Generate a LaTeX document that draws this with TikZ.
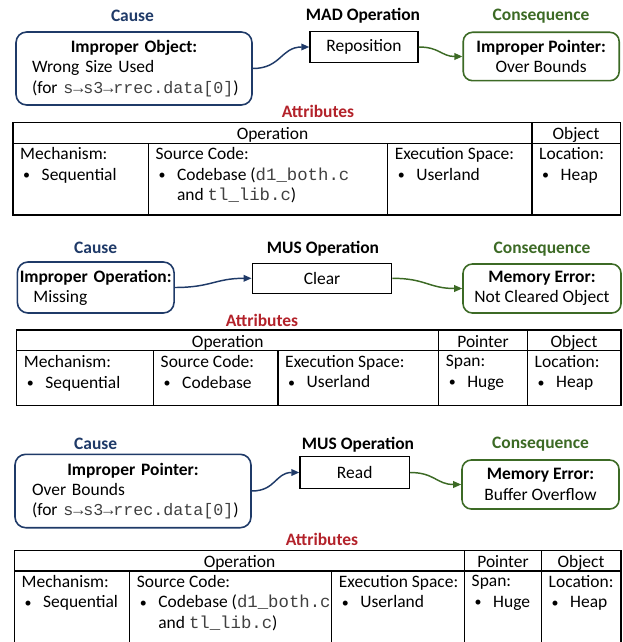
\documentclass[tikz,border=0pt]{standalone}
\usepackage{fontspec}
\setmainfont{Carlito}
\newfontfamily\codefont{Liberation Mono}
\usetikzlibrary{arrows.meta}

\definecolor{causeBlue}{HTML}{1F3A68}
\definecolor{consGreen}{HTML}{3C6A25}
\definecolor{attrRed}{HTML}{B3222A}

\newlength{\px}
\setlength{\px}{0.75pt}
\newcommand{\bodyfont}{\fontsize{13.1pt}{15.2pt}\selectfont}
\newcommand{\code}[1]{{\codefont\fontsize{12.5pt}{15.2pt}\selectfont\color{black!75}#1}}
\newcommand{\tcode}[1]{{\codefont\fontsize{13pt}{15.2pt}\selectfont\color{black!75}#1}}
\newcommand{\bitem}[1]{\makebox[21.5\px][l]{\hspace{3\px}\raisebox{0.5\px}{\fontsize{10.5pt}{12pt}\selectfont\textbullet}}#1}
\newcommand{\bcont}{\hspace*{21.5\px}}

\begin{document}
\begin{tikzpicture}[
    x=\px, y=-\px, font=\bodyfont, line width=1.1pt,
    causebox/.style={draw=causeBlue, rounded corners=8pt, line width=1.2pt,
                     align=left, inner xsep=16*\px, inner ysep=0pt},
    consbox/.style={draw=consGreen, rounded corners=7pt, line width=1.2pt,
                    align=center, inner sep=0pt},
    opbox/.style={draw=black, line width=1.1pt, inner sep=0pt},
    sectitle/.style={font=\bodyfont\bfseries, anchor=base, inner sep=0pt},
    colhead/.style={anchor=base, inner sep=0pt},
    cell/.style={anchor=north west, align=left, inner sep=0pt},
    causearr/.style={draw=causeBlue, line width=1.1pt, -{Triangle[length=6pt,width=5pt]}},
    consarr/.style={draw=consGreen, line width=1.1pt, -{Triangle[length=6pt,width=5pt]}}
  ]
    \useasboundingbox (0,0) rectangle (622,642);
    \clip (0,0) rectangle (622,642);

    % MAD operation
    \node[sectitle, text=causeBlue] (causelbl1) at (132.5,21.5) {Cause};
    \node[sectitle] (oplbl1) at (363,21) {MAD Operation};
    \node[sectitle, text=consGreen] (conslbl1) at (541,21) {Consequence};

    \node[causebox, text width=204*\px, minimum height=73*\px] (cause1) at (134,68.5)
      {\makebox[\linewidth]{\textbf{Improper Object:}}\\
       Wrong Size Used\\
       (for~\code{s→s3→rrec.data[0]})};
    \node[opbox, minimum width=108*\px, minimum height=30.6*\px] (op1) at (364,47) {Reposition};
    \node[consbox, minimum width=156*\px, minimum height=48.4*\px] (cons1) at (541.2,56.5)
      {\textbf{Improper Pointer:}\\Over Bounds};

    \draw[causearr] (cause1.east) to[out=0, in=180, looseness=1.2] (op1.west);
    \draw[consarr] (op1.east) to[out=0, in=180, looseness=1.2] (cons1.west);

    \node[sectitle, text=attrRed] (attr1) at (318,117) {Attributes};
    \draw (13,122.3) rectangle (620.5,215);
    \draw (13,143.3) -- (620.5,143.3);
    \draw (532,122.3) -- (532,215);
    \foreach \cx in {148.3,387.6}
      \draw (\cx,143.3) -- (\cx,215);
    \node[colhead] (t1op) at (272.5,139) {Operation};
    \node[colhead] (t1obj) at (576,139) {Object};
    \node[cell] (t1mech) at (19.5,147) {Mechanism:\\\bitem{Sequential}};
    \node[cell] (t1src) at (154.8,147)
      {Source Code:\\\bitem{Codebase (\tcode{d1\_both.c}}\\\bcont and \tcode{tl\_lib.c})};
    \node[cell] (t1exec) at (394.1,147) {Execution Space:\\\bitem{Userland}};
    \node[cell] (t1loc) at (538.5,147) {Location:\\\bitem{Heap}};

    % MUS operation: clear
    \node[sectitle, text=causeBlue] (causelbl2) at (95.7,253) {Cause};
    \node[sectitle] (oplbl2) at (323,253) {MUS Operation};
    \node[sectitle, text=consGreen] (conslbl2) at (542,253) {Consequence};

    \node[causebox, text width=124.7*\px, minimum height=51*\px] (cause2) at (95.7,287.5)
      {\makebox[\linewidth]{\textbf{Improper Operation:}}\\
       Missing};
    \node[opbox, minimum width=139.4*\px, minimum height=30*\px] (op2) at (322,278.3) {Clear};
    \node[consbox, minimum width=158*\px, minimum height=49*\px] (cons2) at (542,288.5)
      {\textbf{Memory Error:}\\Not Cleared Object};

    \draw[causearr] (cause2.east) to[out=0, in=180, looseness=1.2] (op2.west);
    \draw[consarr] (op2.east) to[out=0, in=180, looseness=1.2] (cons2.west);

    \node[sectitle, text=attrRed] (attr2) at (262,326) {Attributes};
    \draw (16.7,330) rectangle (621,405.7);
    \draw (16.7,350.7) -- (621,350.7);
    \foreach \cx in {438.6,527.5}
      \draw (\cx,330) -- (\cx,405.7);
    \foreach \cx in {153.5,278}
      \draw (\cx,350.7) -- (\cx,405.7);
    \node[colhead] (t2op) at (227.7,347) {Operation};
    \node[colhead] (t2ptr) at (483,347) {Pointer};
    \node[colhead] (t2obj) at (574,347) {Object};
    \node[cell] (t2mech) at (23.2,354.9) {Mechanism:\\\bitem{Sequential}};
    \node[cell] (t2src) at (160,354.9) {Source Code:\\\bitem{Codebase}};
    \node[cell] (t2exec) at (284.5,354.9) {Execution Space:\\\bitem{Userland}};
    \node[cell] (t2span) at (445.1,354.9) {Span:\\\bitem{Huge}};
    \node[cell] (t2loc) at (534,354.9) {Location:\\\bitem{Heap}};

    % MUS operation: read
    \node[sectitle, text=causeBlue] (causelbl3) at (95.7,449) {Cause};
    \node[sectitle] (oplbl3) at (358,449) {MUS Operation};
    \node[sectitle, text=consGreen] (conslbl3) at (540.5,448.5) {Consequence};

    \node[causebox, text width=202*\px, inner xsep=17*\px, minimum height=73.4*\px] (cause3) at (133,491)
      {\makebox[\linewidth]{\textbf{Improper Pointer:}}\\
       Over Bounds\\
       (for~\code{s→s3→rrec.data[0]})};
    \node[opbox, minimum width=109.3*\px, minimum height=31.6*\px] (op3) at (354.7,472.5) {Read};
    \node[consbox, minimum width=157*\px, minimum height=49*\px] (cons3) at (540.5,484.5)
      {\textbf{Memory Error:}\\Buffer Overflow};

    \draw[causearr] (cause3.east) to[out=0, in=180, looseness=1.2] (op3.west);
    \draw[consarr] (op3.east) to[out=0, in=180, looseness=1.2] (cons3.west);

    \node[sectitle, text=attrRed] (attr3) at (322,545.5) {Attributes};
    \draw (14.4,550.7) rectangle (621,660);
    \draw (14.4,571) -- (621,571);
    \foreach \cx in {464.5,541.5}
      \draw (\cx,550.7) -- (\cx,660);
    \foreach \cx in {129.6,331.7}
      \draw (\cx,571) -- (\cx,660);
    \node[colhead] (t3op) at (239.5,567) {Operation};
    \node[colhead] (t3ptr) at (503,567) {Pointer};
    \node[colhead] (t3obj) at (581,567) {Object};
    \node[cell] (t3mech) at (20.9,574.8) {Mechanism:\\\bitem{Sequential}};
    \node[cell] (t3src) at (136.1,574.8)
      {Source Code:\\\bitem{Codebase (\tcode{d1\_both.c}}\\\bcont and \tcode{tl\_lib.c})};
    \node[cell] (t3exec) at (338.2,574.8) {Execution Space:\\\bitem{Userland}};
    \node[cell] (t3span) at (471,574.8) {Span:\\\bitem{Huge}};
    \node[cell] (t3loc) at (548,574.8) {Location:\\\bitem{Heap}};
\end{tikzpicture}
\end{document}
